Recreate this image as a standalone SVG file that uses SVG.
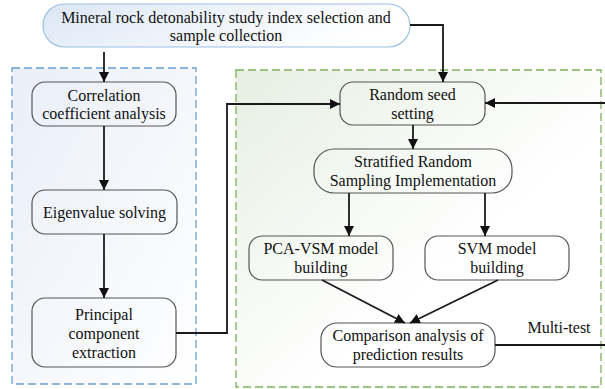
<svg xmlns="http://www.w3.org/2000/svg" width="605" height="389" viewBox="0 0 605 389">
<defs>
<linearGradient id="gTop" x1="0" y1="0" x2="1" y2="0.3">
<stop offset="0" stop-color="#dce7f5"/>
<stop offset="1" stop-color="#ffffff"/>
</linearGradient>
<linearGradient id="gBlue" x1="0" y1="0" x2="1" y2="1">
<stop offset="0" stop-color="#e9eef8"/>
<stop offset="1" stop-color="#ffffff"/>
</linearGradient>
<linearGradient id="gGreen" x1="0" y1="0" x2="1" y2="1">
<stop offset="0" stop-color="#e6efe2"/>
<stop offset="0.6" stop-color="#ffffff"/>
<stop offset="1" stop-color="#ffffff"/>
</linearGradient>
<marker id="ah" viewBox="0 0 10 10" refX="10" refY="5" markerWidth="10" markerHeight="10" markerUnits="userSpaceOnUse" orient="auto">
<path d="M0,0 L10,5 L0,10 Z" fill="#111"/>
</marker>
</defs>
<style>
.node rect{fill:none;stroke:#555;stroke-width:1.2}
text{font-family:"Liberation Serif","Times New Roman",serif;font-size:16px;fill:#111;text-anchor:middle;dominant-baseline:central}
.con path{fill:none;stroke:#1a1a1a;stroke-width:1.8}
.arr{marker-end:url(#ah)}
</style>
<rect width="605" height="389" fill="#fff"/>
<g id="groupBlue">
<rect x="12" y="68" width="184" height="316" fill="url(#gBlue)" stroke="#6b9fd1" stroke-width="1.3" stroke-dasharray="8,4"/>
</g>
<g id="groupGreen">
<rect x="236" y="70" width="365" height="317" fill="url(#gGreen)" stroke="#7fb05c" stroke-width="1.3" stroke-dasharray="8,4"/>
</g>
<g id="top">
<rect x="43" y="4" width="367" height="43" rx="21.5" fill="url(#gTop)" stroke="#9cc0e2" stroke-width="1.2"/>
<text x="226" y="17">Mineral rock detonability study index selection and</text>
<text x="226" y="35">sample collection</text>
</g>
<g id="correlation" class="node">
<rect x="32" y="82" width="144" height="44" rx="13"/>
<text x="104" y="95">Correlation</text>
<text x="104" y="113">coefficient analysis</text>
</g>
<g id="eigen" class="node">
<rect x="32" y="190" width="145" height="44" rx="13"/>
<text x="104.5" y="212">Eigenvalue solving</text>
</g>
<g id="principal" class="node">
<rect x="32" y="298" width="144" height="69" rx="13"/>
<text x="104" y="314">Principal</text>
<text x="104" y="333">component</text>
<text x="104" y="352">extraction</text>
</g>
<g id="seed" class="node">
<rect x="340" y="82" width="145" height="43" rx="13"/>
<text x="412.5" y="94">Random seed</text>
<text x="412.5" y="113">setting</text>
</g>
<g id="stratified" class="node">
<rect x="314" y="149" width="198" height="44" rx="20"/>
<text x="413" y="161">Stratified Random</text>
<text x="413" y="180">Sampling Implementation</text>
</g>
<g id="pca" class="node">
<rect x="249" y="236" width="144" height="44" rx="13"/>
<text x="321" y="248">PCA-VSM model</text>
<text x="321" y="267">building</text>
</g>
<g id="svm" class="node">
<rect x="425" y="236" width="144" height="44" rx="13"/>
<text x="497" y="248">SVM model</text>
<text x="497" y="267">building</text>
</g>
<g id="compare" class="node">
<rect x="321" y="323" width="174" height="44" rx="16"/>
<text x="408" y="335">Comparison analysis of</text>
<text x="408" y="354">prediction results</text>
</g>
<g id="connectors" class="con">
<path class="arr" d="M104,52 V82"/>
<path class="arr" d="M410,25 H443 V82"/>
<path class="arr" d="M104,126 V190"/>
<path class="arr" d="M104,234 V298"/>
<path class="arr" d="M176,333 H227 V104 H340"/>
<path class="arr" d="M605,103 H485"/>
<path class="arr" d="M413,125 V149"/>
<path class="arr" d="M349,193 V236"/>
<path class="arr" d="M485,193 V236"/>
<path class="arr" d="M322,280 L405,323"/>
<path class="arr" d="M498,280 L410,323"/>
<path d="M495,345 H605"/>
<text x="559" y="327">Multi-test</text>
</g>
</svg>
